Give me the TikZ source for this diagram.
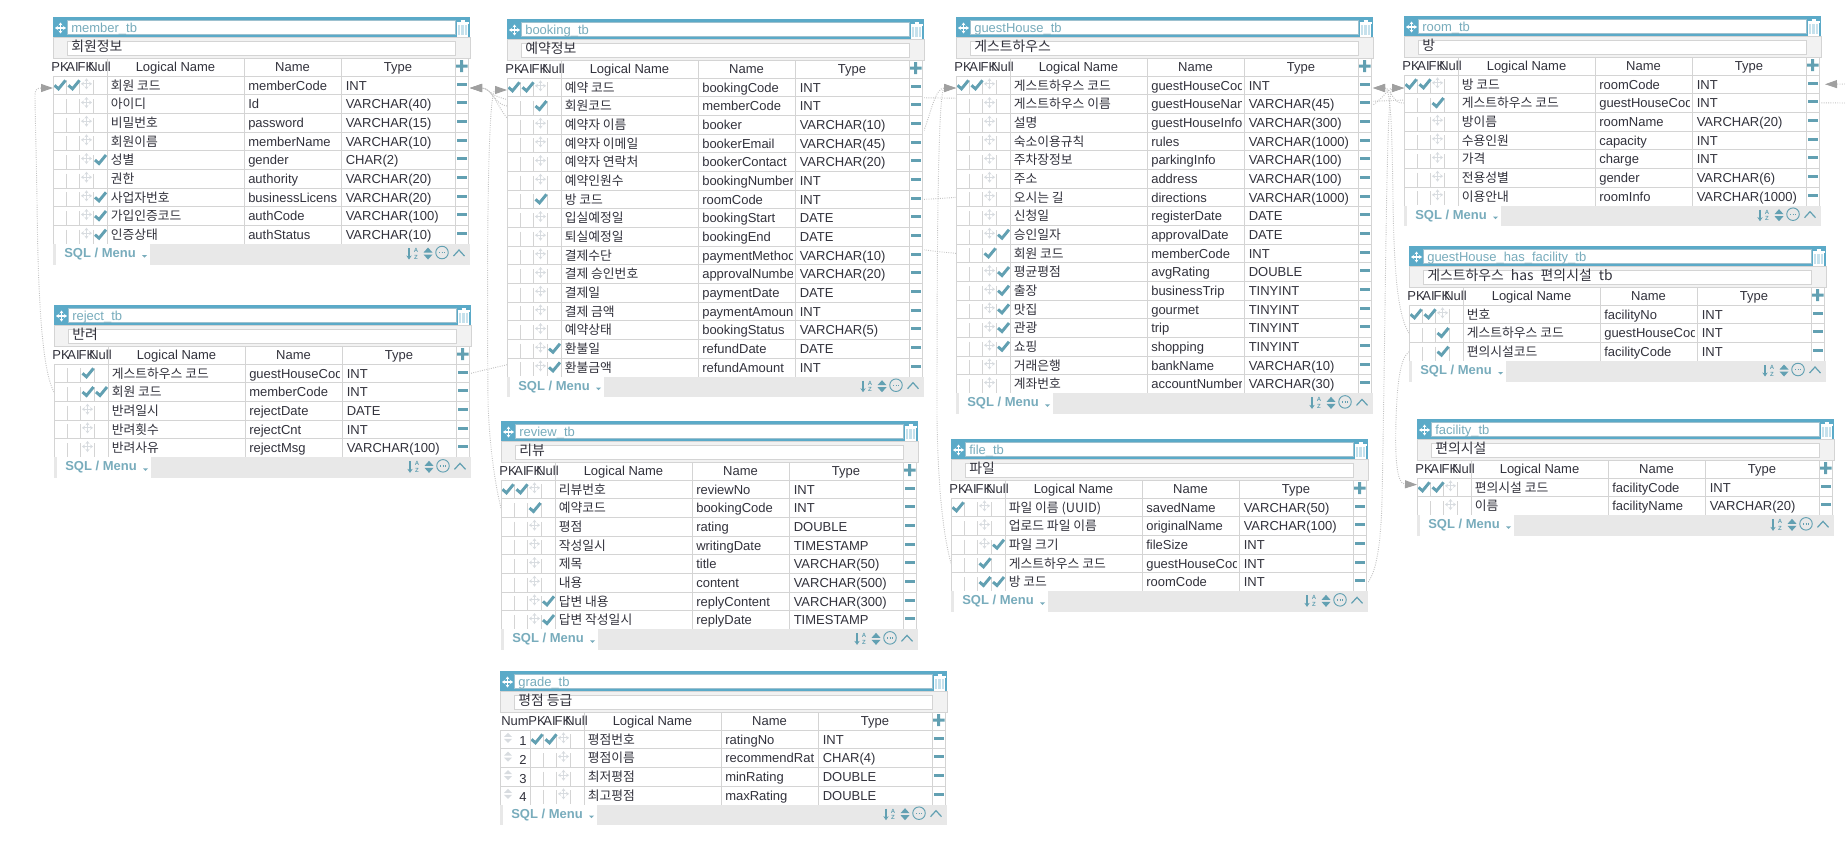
\documentclass[tikz,border=0pt]{standalone}
\usepackage{fontspec}
\setmainfont{Liberation Sans}
\newfontfamily\krfont{Noto Sans CJK KR}
\usetikzlibrary{arrows.meta, backgrounds}
\definecolor{barblue}{RGB}{91,170,200}
\definecolor{checkteal}{RGB}{98,160,178}
\definecolor{titleteal}{RGB}{120,172,188}
\definecolor{gridgray}{RGB}{212,212,212}
\definecolor{movegray}{RGB}{216,220,224}
\definecolor{footgray}{RGB}{232,232,232}
\definecolor{descgray}{RGB}{242,242,242}
\definecolor{textgray}{RGB}{50,50,60}
\definecolor{linkgray}{RGB}{195,195,195}
\definecolor{arrowgray}{RGB}{160,160,160}

\newcommand{\ertable}[7]{%
  \pgfmathsetmacro{\tbw}{417+#4}
  \pgfmathsetmacro{\tbc}{#2+#4}
  \fill[barblue] (#2,#3) rectangle ++(\tbw,20);
  \node[inputbox, minimum width=(\tbc+402-#2-14)*0.75pt, minimum height=10.5pt] (#1-titlebox) at (#2+14,#3+3) {};
  \node[titletext] (#1-title) at (#2+18,#3+15.3) {#5};
  \pic at (#2+7.5,#3+11) {moveicon={white}};
  \pic at (\tbc+409.5,#3+11) {trashicon};
  \fill[descgray] (#2,#3+20) rectangle ++(\tbw,21);
  \draw[gridline] (#2,#3+20) rectangle ++(\tbw,21);
  \node[inputbox, draw=gridgray, minimum width=(\tbc+402-#2-14)*0.75pt, minimum height=10.5pt] (#1-descbox) at (#2+14,#3+24) {};
  \node[desctext] (#1-desc) at (#2+18,#3+34.7) {#6};
  \ifnum#4>0
    \node[headtext] (#1-numhead) at (#2+15,#3+54) {Num};
  \fi
  \node[headtext] (#1-pkhead) at (\tbc+7,#3+54) {PK};
  \node[headtext] (#1-aihead) at (\tbc+19.5,#3+54) {AI};
  \node[headtext] (#1-fkhead) at (\tbc+33,#3+54) {FK};
  \node[headtext] (#1-nullhead) at (\tbc+46.5,#3+54) {Null};
  \node[headtext] (#1-loghead) at (\tbc+122.5,#3+54) {Logical Name};
  \node[headtext] (#1-namehead) at (\tbc+239.5,#3+54) {Name};
  \node[headtext] (#1-typehead) at (\tbc+345,#3+54) {Type};
  \pic at (\tbc+408.5,#3+49) {plusicon};
  \foreach \rowlog/\rowname/\rowtype/\flagpk/\flagai/\flagfk/\flagnull [count=\rowno] in {#7} {
    \pgfmathsetmacro{\rowy}{#3+59+(\rowno-0.5)*18.67}
    \xdef\lastrowno{\rowno}
    \node[rowbox, minimum width=\tbw*0.75pt] (#1-r\rowno) at (#2+\tbw/2,\rowy) {};
    \node[celltext] (#1-r\rowno-name) at (\tbc+195,\rowy+4.7) {\rowname};
    \fill[white] (\tbc+285.5,\rowy-8) rectangle (\tbc+291.5,\rowy+8);
    \node[logtext] (#1-r\rowno-log) at (\tbc+57.5,\rowy+4.7) {\rowlog};
    \node[celltext] (#1-r\rowno-type) at (\tbc+292.5,\rowy+4.7) {\rowtype};
    \draw[gridline] (#2,\rowy-9.33) -- ++(\tbw-2,0);
    \foreach \tickx in {13,26,40} {
      \draw[gridline] (\tbc+\tickx,\rowy-5) -- ++(0,14);
    }
    \ifnum#4>0
      \node[headtext] (#1-r\rowno-num) at (#2+23,\rowy+6.5) {\rowno};
      \fill[movegray] (#2+4,\rowy-2.5) -- ++(4,-4) -- ++(4,4) -- cycle;
      \fill[movegray] (#2+4,\rowy-0.5) -- ++(4,4) -- ++(4,-4) -- cycle;
    \fi
    \ifnum\flagpk=1 \pic at (\tbc+7,\rowy-0.5) {checkicon}; \fi
    \ifnum\flagai=1 \pic at (\tbc+21,\rowy-0.5) {checkicon}; \fi
    \ifnum\flagfk=1 \pic at (\tbc+34,\rowy-0.5) {checkicon}; \else \pic at (\tbc+33.5,\rowy-1.5) {moveicon={movegray}}; \fi
    \ifnum\flagnull=1 \pic at (\tbc+47.5,\rowy-0.5) {checkicon}; \fi
    \fill[checkteal] (\tbc+403.5,\rowy-2.8) rectangle ++(10,3);
  }
  \pgfmathsetmacro{\foottop}{#3+59+\lastrowno*18.67}
  \draw[gridline] (#2,#3+59) -- ++(0,\foottop-#3-59);
  \ifnum#4>0 \draw[gridline] (\tbc,#3+59) -- ++(0,\foottop-#3-59); \fi
  \foreach \colx in {54,191,288,402,415} {
    \draw[gridline] (\tbc+\colx,#3+41) -- ++(0,\foottop-#3-41);
  }
  \draw[gridline] (#2,#3+59) -- ++(\tbw-2,0);
  \fill[footgray] (#2,\foottop) rectangle ++(\tbw,20.5);
  \fill[white] (#2+3,\foottop) rectangle ++(94,20.5);
  \node[foottext] (#1-menu) at (#2+11,\foottop+13.5) {SQL / Menu};
  \fill[titleteal] (#2+89,\foottop+11) -- ++(5,0) -- ++(-2.5,2.5) -- cycle;
  \pic at (\tbc+356,\foottop+9.5) {sorticon};
  \node[sorttext] (#1-sorta) at (\tbc+363,\foottop+6.5) {A};
  \node[sorttext] (#1-sortz) at (\tbc+363,\foottop+13) {Z};
  \pic at (\tbc+375,\foottop+9.5) {updownicon};
  \pic at (\tbc+389,\foottop+9) {commenticon};
  \pic at (\tbc+406,\foottop+9) {chevronicon};
}

\begin{document}
\begin{tikzpicture}[
        x=0.75pt, y=-0.75pt,
        inputbox/.style={rectangle, fill=white, draw=barblue!45!gridgray, line width=0.75pt, inner sep=0pt, anchor=north west},
        rowbox/.style={rectangle, fill=white, inner sep=0pt, outer sep=0pt, minimum height=14pt},
        celltext/.style={anchor=base west, inner sep=0pt, text=textgray, font=\fontsize{9.75}{11}\selectfont},
        logtext/.style={celltext, font=\krfont\fontsize{9.6}{11}\selectfont},
        desctext/.style={celltext, font=\krfont\fontsize{10.4}{11}\selectfont},
        headtext/.style={celltext, anchor=base},
        titletext/.style={celltext, text=titleteal},
        foottext/.style={celltext, text=titleteal, font=\bfseries\fontsize{9.75}{11}\selectfont},
        sorttext/.style={inner sep=0pt, text=checkteal, font=\bfseries\fontsize{4.5}{5}\selectfont},
        gridline/.style={draw=gridgray, line width=0.75pt},
        fklink/.style={densely dotted, draw=linkgray, line width=0.7pt, -{Triangle[length=9pt,width=6pt,color=arrowgray]}},
        checkicon/.pic={\draw[checkteal, line width=2.2pt] (-5.5,0.5) -- (-1.5,4) -- (5.5,-4.5);},
        moveicon/.pic={
            \draw[#1, line width=0.9pt, {Stealth[length=2.2pt,width=3pt]}-{Stealth[length=2.2pt,width=3pt]}] (-5.5,0) -- (5.5,0);
            \draw[#1, line width=0.9pt, {Stealth[length=2.2pt,width=3pt]}-{Stealth[length=2.2pt,width=3pt]}] (0,-5.5) -- (0,5.5);
        },
        trashicon/.pic={
            \draw[white, fill=barblue!35, line width=0.8pt] (-5,-4) rectangle (5,8);
            \draw[white, line width=0.8pt] (-6,-5) -- (6,-5) (-2,-7) -- (2,-7);
            \draw[white, line width=0.6pt] (-2,-3) -- (-2,8) (1.5,-3) -- (1.5,8);
        },
        plusicon/.pic={\fill[checkteal] (-6,-1.5) rectangle (6,1.5) (-1.5,-6) rectangle (1.5,6);},
        sorticon/.pic={\draw[checkteal, line width=0.9pt, -{Stealth[length=3pt,width=4pt]}] (0,-5.5) -- (0,6);},
        updownicon/.pic={
            \fill[checkteal] (-4.5,-1) -- (0,-6) -- (4.5,-1) -- cycle;
            \fill[checkteal] (-4.5,1) -- (0,6) -- (4.5,1) -- cycle;
        },
        commenticon/.pic={
            \draw[checkteal, line width=0.7pt] (0,-0.5) circle (4.7pt);
            \draw[checkteal, line width=1pt, densely dotted] (-3,-0.5) -- (3,-0.5);
        },
        chevronicon/.pic={\draw[checkteal, line width=0.9pt] (-5.5,3) -- (0,-3) -- (5.5,3);}
    ]
    \useasboundingbox (0,0) rectangle (1845,853);

    \ertable{member}{53}{17}{0}{member\_tb}{회원정보}{
        회원 코드/memberCode/INT/1/1/0/0,
        아이디/Id/VARCHAR(40)/0/0/0/0,
        비밀번호/password/VARCHAR(15)/0/0/0/0,
        회원이름/memberName/VARCHAR(10)/0/0/0/0,
        성별/gender/CHAR(2)/0/0/0/1,
        권한/authority/VARCHAR(20)/0/0/0/0,
        사업자번호/businessLicens/VARCHAR(20)/0/0/0/1,
        가입인증코드/authCode/VARCHAR(100)/0/0/0/1,
        인증상태/authStatus/VARCHAR(10)/0/0/0/1}
    \ertable{reject}{54}{305}{0}{reject\_tb}{반려}{
        게스트하우스 코드/guestHouseCod/INT/0/0/1/0,
        회원 코드/memberCode/INT/0/0/1/1,
        반려일시/rejectDate/DATE/0/0/0/0,
        반려횟수/rejectCnt/INT/0/0/0/0,
        반려사유/rejectMsg/VARCHAR(100)/0/0/0/0}
    \ertable{booking}{507}{19}{0}{booking\_tb}{예약정보}{
        예약 코드/bookingCode/INT/1/1/0/0,
        회원코드/memberCode/INT/0/0/1/0,
        예약자 이름/booker/VARCHAR(10)/0/0/0/0,
        예약자 이메일/bookerEmail/VARCHAR(45)/0/0/0/0,
        예약자 연락처/bookerContact/VARCHAR(20)/0/0/0/0,
        예약인원수/bookingNumber/INT/0/0/0/0,
        방 코드/roomCode/INT/0/0/1/0,
        입실예정일/bookingStart/DATE/0/0/0/0,
        퇴실예정일/bookingEnd/DATE/0/0/0/0,
        결제수단/paymentMethod/VARCHAR(10)/0/0/0/0,
        결제 승인번호/approvalNumber/VARCHAR(20)/0/0/0/0,
        결제일/paymentDate/DATE/0/0/0/0,
        결제 금액/paymentAmount/INT/0/0/0/0,
        예약상태/bookingStatus/VARCHAR(5)/0/0/0/0,
        환불일/refundDate/DATE/0/0/0/1,
        환불금액/refundAmount/INT/0/0/0/1}
    \ertable{review}{501}{421}{0}{review\_tb}{리뷰}{
        리뷰번호/reviewNo/INT/1/1/0/0,
        예약코드/bookingCode/INT/0/0/1/0,
        평점/rating/DOUBLE/0/0/0/0,
        작성일시/writingDate/TIMESTAMP/0/0/0/0,
        제목/title/VARCHAR(50)/0/0/0/0,
        내용/content/VARCHAR(500)/0/0/0/0,
        답변 내용/replyContent/VARCHAR(300)/0/0/0/1,
        답변 작성일시/replyDate/TIMESTAMP/0/0/0/1}
    \ertable{grade}{500}{671}{30}{grade\_tb}{평점 등급}{
        평점번호/ratingNo/INT/1/1/0/0,
        평점이름/recommendRat/CHAR(4)/0/0/0/0,
        최저평점/minRating/DOUBLE/0/0/0/0,
        최고평점/maxRating/DOUBLE/0/0/0/0}
    \ertable{guestHouse}{956}{17}{0}{guestHouse\_tb}{게스트하우스}{
        게스트하우스 코드/guestHouseCod/INT/1/1/0/0,
        게스트하우스 이름/guestHouseNam/VARCHAR(45)/0/0/0/0,
        설명/guestHouseInfo/VARCHAR(300)/0/0/0/0,
        숙소이용규칙/rules/VARCHAR(1000)/0/0/0/0,
        주차장정보/parkingInfo/VARCHAR(100)/0/0/0/0,
        주소/address/VARCHAR(100)/0/0/0/0,
        오시는 길/directions/VARCHAR(1000)/0/0/0/0,
        신청일/registerDate/DATE/0/0/0/0,
        승인일자/approvalDate/DATE/0/0/0/1,
        회원 코드/memberCode/INT/0/0/1/0,
        평균평점/avgRating/DOUBLE/0/0/0/1,
        출장/businessTrip/TINYINT/0/0/0/1,
        맛집/gourmet/TINYINT/0/0/0/1,
        관광/trip/TINYINT/0/0/0/1,
        쇼핑/shopping/TINYINT/0/0/0/1,
        거래은행/bankName/VARCHAR(10)/0/0/0/0,
        계좌번호/accountNumber/VARCHAR(30)/0/0/0/0}
    \ertable{file}{951}{439}{0}{file\_tb}{파일}{
        파일 이름 (UUID)/savedName/VARCHAR(50)/1/0/0/0,
        업로드 파일 이름/originalName/VARCHAR(100)/0/0/0/0,
        파일 크기/fileSize/INT/0/0/0/1,
        게스트하우스 코드/guestHouseCod/INT/0/0/1/0,
        방 코드/roomCode/INT/0/0/1/1}
    \ertable{room}{1404}{16}{0}{room\_tb}{방}{
        방 코드/roomCode/INT/1/1/0/0,
        게스트하우스 코드/guestHouseCod/INT/0/0/1/0,
        방이름/roomName/VARCHAR(20)/0/0/0/0,
        수용인원/capacity/INT/0/0/0/0,
        가격/charge/INT/0/0/0/0,
        전용성별/gender/VARCHAR(6)/0/0/0/0,
        이용안내/roomInfo/VARCHAR(1000)/0/0/0/0}
    \ertable{hasFacility}{1409}{246}{0}{guestHouse\_has\_facility\_tb}{게스트하우스\hspace{3pt} has\hspace{3pt} 편의시설\hspace{3pt} tb}{
        번호/facilityNo/INT/1/1/0/0,
        게스트하우스 코드/guestHouseCod/INT/0/0/1/0,
        편의시설코드/facilityCode/INT/0/0/1/0}
    \ertable{facility}{1417}{419}{0}{facility\_tb}{편의시설}{
        편의시설 코드/facilityCode/INT/1/1/0/0,
        이름/facilityName/VARCHAR(20)/0/0/0/0}

    \coordinate (outer-r1) at (1845,84);
    \coordinate (outer-r2) at (1845,103);

    \begin{scope}[on background layer]
        \fill[white] (0,0) rectangle (1845,853);
        \draw[fklink] (reject-r2.west) .. controls (42,370) and (38,300) .. (37,200) .. controls (36,140) and (35,110) .. (35,95) .. controls (35,90) and (37,88) .. ([yshift=-2pt]member-r1.west);
        \draw[fklink] (booking-r2.west) .. controls (495,105) and (492,88) .. ([yshift=-2pt]member-r1.east);
        \draw[fklink] (guestHouse-r10.west) .. controls (800,240) and (540,160) .. (507,118) .. controls (496,104) and (492,88) .. ([yshift=-2pt]member-r1.east);
        \draw[fklink] (outer-r2) -- (1404,100) .. controls (1200,110) and (900,90) .. (700,100) .. controls (600,105) and (510,110) .. (490,92) .. controls (487,90) and (485,88) .. ([yshift=-2pt]member-r1.east);
        \draw[fklink] (review-r2.west) .. controls (494,480) and (489,440) .. (488,400) .. controls (487,280) and (487,90) .. ([yshift=-2pt]booking-r1.west);
        \draw[fklink] (reject-r1.east) .. controls (520,360) and (850,300) .. (923,133) .. controls (931,113) and (935,88) .. ([yshift=-2pt]guestHouse-r1.west);
        \draw[fklink] (file-r4.west) .. controls (942,530) and (938,480) .. (937,420) .. controls (937,300) and (937,88) .. ([yshift=-2pt]guestHouse-r1.west);
        \draw[fklink] (room-r2.west) .. controls (1393,105) and (1391,88) .. ([yshift=-2pt]guestHouse-r1.east);
        \draw[fklink] (hasFacility-r2.west) .. controls (1399,318) and (1394,280) .. (1393,200) .. controls (1392,130) and (1391,88) .. ([yshift=-2pt]guestHouse-r1.east);
        \draw[fklink] (file-r5.east) .. controls (1377,571) and (1381,540) .. (1382,500) .. controls (1386,300) and (1386,88) .. ([yshift=-2.8pt]room-r1.west);
        \draw[fklink] (booking-r7.east) .. controls (1100,190) and (1300,150) .. (1373,105) .. controls (1383,98) and (1389,88) .. ([yshift=-2.8pt]room-r1.west);
        \draw[fklink, shorten >=3pt] (outer-r1) -- (room-r1.east);
        \draw[fklink] (hasFacility-r3.west) .. controls (1400,358) and (1397,385) .. (1396,420) .. controls (1395,455) and (1396,484) .. ([yshift=2pt]facility-r1.west);
    \end{scope}
\end{tikzpicture}
\end{document}
